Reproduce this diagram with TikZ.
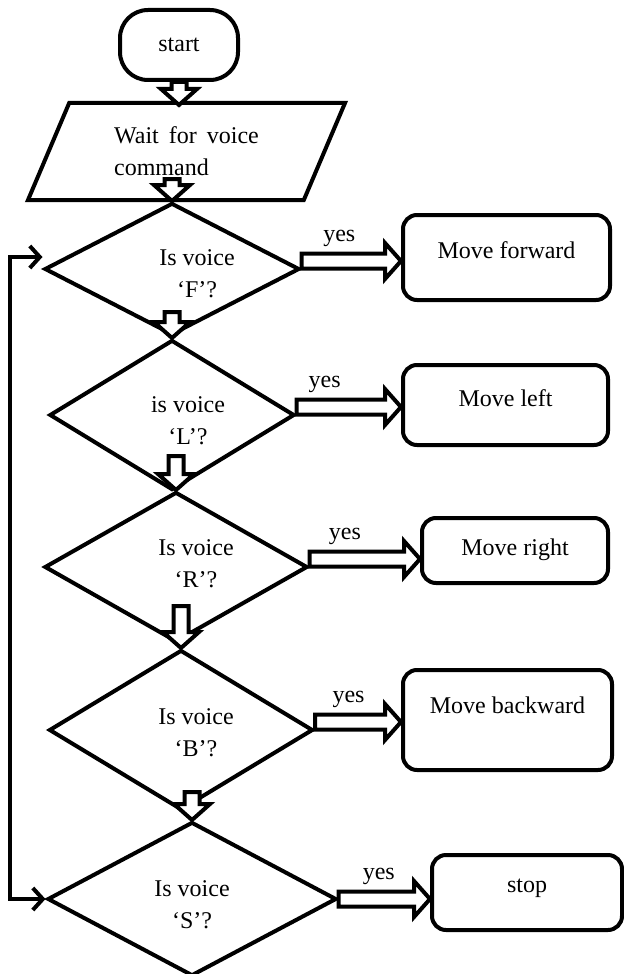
\documentclass[tikz,border=0pt]{standalone}
\usepackage{fontspec}
\setmainfont{Liberation Serif}
\usetikzlibrary{positioning, arrows.meta, calc, shapes.geometric}

\begin{document}
\begin{tikzpicture}[x=0.5pt, y=-0.5pt, font=\fontsize{12}{16}\selectfont,
    shapeline/.style={draw, line width=2pt},
    terminal/.style={shapeline, rounded corners=14pt, minimum width=59pt, minimum height=35pt},
    io/.style={shapeline, trapezium, trapezium left angle=56.6, trapezium right angle=123.4, trapezium stretches body, minimum width=158.5pt, minimum height=48.5pt, align=left},
    decision/.style={shapeline, diamond, inner sep=0pt},
    dtext/.style={align=center, inner sep=0pt},
    action/.style={shapeline, rounded corners=7pt},
    hollow/.style={draw, fill=white, line width=2pt, to path={
        let \p1=($(\tikztotarget)!8pt!(\tikztostart)$) in
        ($(\tikztostart)!3.75pt!-90:(\tikztotarget)$) -- ($(\p1)!3.75pt!-90:(\tikztotarget)$)
        -- ($(\p1)!9pt!-90:(\tikztotarget)$) -- (\tikztotarget)
        -- ($(\p1)!9pt!90:(\tikztotarget)$) -- ($(\p1)!3.75pt!90:(\tikztotarget)$)
        -- ($(\tikztostart)!3.75pt!90:(\tikztotarget)$) -- cycle}},
    yeslabel/.style={inner sep=0pt, above=7pt},
    backline/.style={line width=2pt, {Straight Barb[length=5pt, width=11pt]}-{Straight Barb[length=5pt, width=11pt]}},
]
\useasboundingbox (0,0) rectangle (624,974);

% start and input
\node[terminal] (start) at (179,45) {start};
\node[io] (wait) at (186.5,151.5) {Wait\hspace{2pt} for\hspace{2pt} voice\\command};

% decisions
\node[decision, minimum width=127.5pt, minimum height=66pt, label={[dtext, xshift=12.5pt, yshift=-2.5pt]center:Is voice\\`F'?}] (qF) at (172,269) {};
\node[decision, minimum width=122.5pt, minimum height=75pt, label={[dtext, xshift=8pt, yshift=-3pt]center:is voice\\`L'?}] (qL) at (172,415) {};
\node[decision, minimum width=131.5pt, minimum height=75pt, label={[dtext, xshift=10pt, yshift=1.5pt]center:Is voice\\`R'?}] (qR) at (176,567) {};
\node[decision, minimum width=132pt, minimum height=80pt, label={[dtext, xshift=7.5pt, yshift=-1.5pt]center:Is voice\\`B'?}] (qB) at (181,730) {};
\node[decision, minimum width=144.5pt, minimum height=77pt, label={[dtext, yshift=-3pt]center:Is voice\\`S'?}] (qS) at (192,899) {};

% actions
\node[action, minimum width=103.5pt, minimum height=42.5pt, text depth=7pt] (mF) at (506.5,257.5) {Move forward};
\node[action, minimum width=102.5pt, minimum height=40pt, text depth=7pt] (mL) at (505.5,405) {Move left};
\node[action, minimum width=93pt, minimum height=32.5pt, text depth=3pt] (mR) at (515,550.5) {Move right};
\node[action, minimum width=104.5pt, minimum height=50pt, text depth=15pt] (mB) at (507.5,720) {Move backward};
\node[action, minimum width=95pt, minimum height=37.5pt, text depth=7pt] (mS) at (527,892.5) {stop};

% main flow
\draw[hollow] (start.south) to ([yshift=-2pt]start.south |- wait.north);
\draw[hollow] ([yshift=11pt]qF.north) to (qF.north);
\draw[hollow] ([yshift=13pt]qL.north) to (qL.north);
\draw[hollow] ([yshift=17pt]qR.north) to (qR.north);
\draw[hollow] ([yshift=21pt]qB.north) to (qB.north);
\draw[hollow] ([yshift=14pt]qS.north) to (qS.north);

% yes branches
\draw[hollow] ([yshift=4pt]qF.east) to ([yshift=4pt]qF.east -| mF.west);
\draw[hollow] ([yshift=4pt]qL.east) to ([yshift=4pt]qL.east -| mL.west);
\draw[hollow] ([yshift=4pt]qR.east) to ([yshift=4pt]qR.east -| mR.west);
\draw[hollow] ([yshift=4pt]qB.east) to ([yshift=4pt]qB.east -| mB.west);
\draw[hollow] ([yshift=0pt]qS.east) to ([yshift=0pt]qS.east -| mS.west);
\node[yeslabel] at ($([yshift=4pt]qF.east)!.38!([yshift=4pt]qF.east -| mF.west)$) {yes};
\node[yeslabel] at ($([yshift=4pt]qL.east)!.27!([yshift=4pt]qL.east -| mL.west)$) {yes};
\node[yeslabel] at ($([yshift=4pt]qR.east)!.32!([yshift=4pt]qR.east -| mR.west)$) {yes};
\node[yeslabel] at ($([yshift=4pt]qB.east)!.39!([yshift=4pt]qB.east -| mB.west)$) {yes};
\node[yeslabel] at ($(qS.east)!.44!(qS.east -| mS.west)$) {yes};

% loop back
\draw[backline] (qS.west) -- ++(-35.5,0) |- ([yshift=6pt]qF.west);
\end{tikzpicture}
\end{document}
